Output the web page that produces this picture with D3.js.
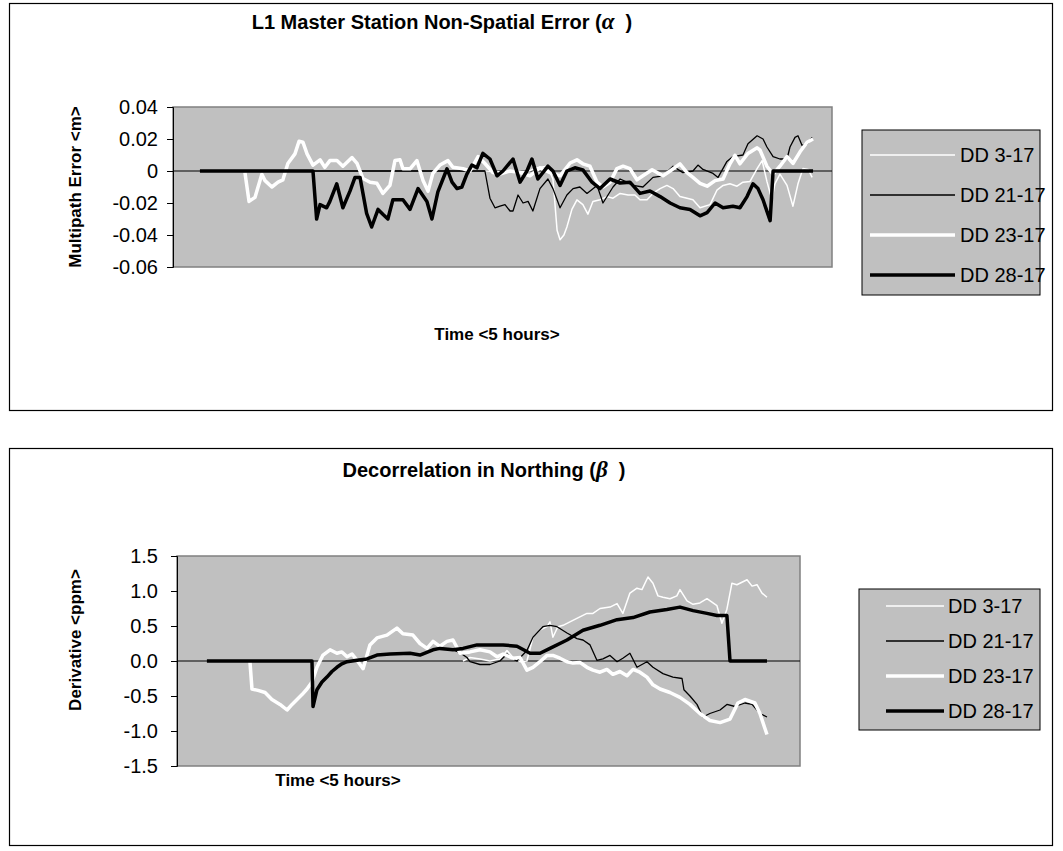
<!DOCTYPE html>
<html>
<head>
<meta charset="utf-8">
<script src="https://cdn.jsdelivr.net/npm/d3@7"></script>
<style>
  body { margin: 0; background: #fff; }
  text { font-family: "Liberation Sans", Arial, sans-serif; }
</style>
</head>
<body>
<svg id="chart" width="1063" height="851"></svg>
<script>
// series names shared by both charts
var seriesNames = ["DD 3-17", "DD 21-17", "DD 23-17", "DD 28-17"];

// ---- top chart: master station non-spatial error (metres), time in minutes ----
var alphaTicks = [-0.06, -0.04, -0.02, 0, 0.02, 0.04];

var alpha3T = [139.7, 146.3, 152.0, 158.1, 162.5, 166.9, 169.5, 171.3, 172.6, 174.3, 175.6, 177.8, 180.0, 182.6, 184.8, 187.0, 190.1, 193.2, 195.8, 198.9, 202.4, 205.4, 207.6, 210.7, 213.3, 216.4, 219.4, 222.1, 225.1, 228.2, 230.8, 233.9, 238.3, 241.3, 244.0, 247.0, 250.1, 252.7, 255.8, 258.9, 261.1, 263.2, 265.4, 266.7, 268.9, 272.0, 274.6, 276.8, 279.0, 281.3, 283.0];
var alpha3V = [0, -0.0005, 0, -0.0005, 0.002, 0.003, -0.005, -0.037, -0.043, -0.040, -0.035, -0.024, -0.018, -0.021, -0.027, -0.019, -0.018, -0.016, -0.017, -0.014, -0.015, -0.015, -0.018, -0.018, -0.014, -0.011, -0.009, -0.011, -0.016, -0.017, -0.018, -0.023, -0.021, -0.012, -0.009, -0.008, -0.0095, -0.007, -0.0065, 0.0015, 0.0065, -0.0065, -0.018, -0.008, -0.002, -0.009, -0.022, -0.008, 0.0015, 0.001, -0.004];

var alpha21T = [14.9, 139.7, 141.9, 144.1, 146.3, 148.5, 150.7, 152.0, 154.2, 156.4, 158.6, 160.7, 163.8, 167.3, 169.5, 172.6, 175.6, 178.3, 181.3, 184.4, 188.8, 191.4, 195.8, 198.9, 201.9, 204.5, 208.9, 213.3, 217.7, 222.1, 226.4, 230.8, 233.0, 235.2, 239.6, 241.8, 245.7, 248.3, 252.7, 254.9, 258.9, 261.5, 263.2, 265.9, 268.9, 272.0, 273.3, 275.5, 276.8, 278.6, 280.8, 283.0];
var alpha21V = [0, 0, -0.017, -0.023, -0.022, -0.021, -0.025, -0.025, -0.015, -0.020, -0.019, -0.025, -0.011, -0.005, -0.011, -0.023, -0.015, -0.011, -0.010, -0.014, -0.009, -0.020, -0.010, -0.005, -0.007, -0.009, -0.010, -0.004, -0.003, 0.003, -0.001, 0, 0.0037, 0.001, -0.0015, -0.004, 0.006, 0.009, 0.010, 0.017, 0.022, 0.020, 0.015, 0.009, 0.0075, 0.0075, 0.015, 0.021, 0.022, 0.016, 0.017, 0.021];

var alpha23T = [34.6, 36.4, 39.0, 42.0, 43.4, 46.4, 49.1, 51.2, 53.4, 56.5, 58.3, 60.0, 61.8, 64.4, 67.5, 69.6, 71.8, 74.9, 77.5, 81.5, 83.7, 86.3, 89.4, 92.4, 95.0, 98.1, 100.3, 102.5, 103.8, 106.9, 109.9, 112.6, 114.8, 116.9, 120.0, 123.5, 125.7, 130.1, 133.2, 136.7, 139.7, 143.2, 146.3, 150.7, 155.1, 159.4, 163.8, 168.2, 172.6, 177.0, 180.0, 182.6, 185.7, 188.8, 191.4, 194.5, 197.5, 200.2, 203.2, 206.3, 208.9, 212.9, 215.1, 217.7, 220.8, 225.1, 228.2, 230.8, 233.9, 237.0, 240.5, 244.0, 247.0, 249.2, 251.4, 254.9, 258.9, 260.2, 263.2, 265.9, 268.9, 272.0, 274.6, 277.7, 280.8, 283.4];
var alpha23V = [-0.001, -0.019, -0.0165, -0.002, -0.006, -0.010, -0.007, -0.0056, 0.0047, 0.0107, 0.0186, 0.018, 0.0107, 0.0037, 0.007, 0.0023, 0.0065, 0.0065, 0.003, 0.0084, 0.0047, -0.0047, -0.007, -0.0077, -0.014, -0.009, 0.0065, 0.007, 0.0014, 0.0014, 0.0065, -0.006, -0.0126, -0.0015, 0.0037, 0.0065, 0.0023, 0.0014, 0, 0.009, 0.0047, -0.001, -0.002, 0, -0.001, -0.003, 0.002, -0.001, -0.003, 0.005, 0.007, 0.0045, 0.003, -0.007, -0.010, -0.007, 0.0015, 0.003, 0.0015, -0.0055, -0.003, 0.0008, -0.001, -0.003, 0, 0.0045, -0.001, -0.004, -0.0077, -0.0095, -0.006, -0.005, 0.0045, 0.0098, 0.0045, 0.011, 0.0145, 0.013, 0.003, -0.002, 0.003, 0.009, 0.0047, 0.012, 0.018, 0.020];

var alpha28T = [14.9, 64.4, 66.0, 67.5, 70.4, 71.8, 74.8, 77.5, 80.6, 82.8, 85.0, 87.9, 90.1, 92.9, 95.0, 97.2, 99.4, 103.8, 106.9, 110.4, 114.3, 116.5, 119.1, 123.1, 125.3, 127.5, 129.6, 131.8, 134.0, 136.2, 138.8, 141.9, 145.0, 147.6, 152.0, 155.1, 158.1, 160.3, 162.9, 167.3, 169.5, 172.6, 175.6, 179.1, 182.6, 186.6, 190.1, 194.5, 198.9, 203.2, 207.6, 212.0, 216.4, 220.8, 225.1, 229.5, 233.9, 237.0, 240.5, 244.0, 248.3, 251.4, 254.5, 257.1, 259.3, 261.5, 264.6, 265.9, 283.4];
var alpha28V = [0, 0, -0.030, -0.021, -0.023, -0.019, -0.008, -0.023, -0.0126, -0.004, -0.004, -0.0265, -0.035, -0.024, -0.027, -0.030, -0.018, -0.018, -0.024, -0.011, -0.019, -0.030, -0.013, 0.0014, -0.007, -0.011, -0.010, -0.002, 0.0037, 0.002, 0.011, 0.0075, -0.003, 0, 0.0075, -0.007, 0, 0.0075, -0.005, 0.003, 0, -0.009, 0, 0.002, 0.0007, -0.007, -0.011, -0.005, -0.0075, -0.007, -0.014, -0.0125, -0.016, -0.020, -0.023, -0.024, -0.028, -0.026, -0.020, -0.023, -0.022, -0.023, -0.016, -0.008, -0.011, -0.018, -0.031, 0, 0];

// ---- bottom chart: decorrelation in northing (ppm), time in minutes ----
var betaTicks = [-1.5, -1.0, -0.5, 0, 0.5, 1.0, 1.5];

var beta3T = [137.7, 141.1, 145.9, 150.7, 155.5, 158.9, 161.8, 165.2, 168.5, 171.4, 174.8, 178.2, 179.6, 181.0, 183.4, 185.9, 189.2, 194.0, 197.4, 200.3, 203.7, 208.5, 211.9, 214.7, 218.1, 221.5, 223.9, 226.8, 229.2, 231.6, 234.0, 237.4, 240.7, 242.2, 245.6, 248.5, 251.8, 255.2, 257.6, 260.0, 262.4, 264.8, 267.2, 269.6, 274.5, 276.9, 279.3, 281.7, 284.1];
var beta3V = [0, 0.05, 0.03, 0.0, 0.03, 0.15, 0.05, -0.01, 0.0, 0.34, 0.44, 0.49, 0.56, 0.34, 0.49, 0.51, 0.56, 0.63, 0.68, 0.68, 0.75, 0.77, 0.82, 0.68, 0.97, 1.04, 1.02, 1.20, 1.11, 0.93, 0.91, 0.89, 0.93, 1.02, 0.86, 0.81, 0.83, 0.89, 0.84, 0.79, 0.54, 0.74, 1.11, 1.09, 1.16, 1.07, 1.09, 0.97, 0.91];

var beta21T = [126.6, 132.9, 136.3, 139.6, 141.1, 145.9, 150.7, 155.5, 158.9, 161.8, 163.7, 168.5, 171.4, 176.2, 179.6, 183.0, 187.8, 192.6, 195.5, 198.9, 202.2, 205.1, 208.5, 211.9, 214.7, 218.1, 221.5, 226.3, 229.2, 234.0, 238.8, 243.2, 244.1, 247.0, 250.4, 253.3, 256.6, 261.5, 264.8, 268.7, 273.5, 276.9, 280.7, 284.1];
var beta21V = [0.18, 0.16, 0.12, 0.05, -0.01, -0.05, -0.05, 0.0, 0.10, 0.03, 0.0, 0.15, 0.34, 0.49, 0.51, 0.49, 0.40, 0.32, 0.30, 0.23, 0.01, 0.03, 0.08, -0.01, 0.04, 0.11, -0.09, -0.01, -0.09, -0.18, -0.23, -0.25, -0.41, -0.50, -0.62, -0.80, -0.75, -0.70, -0.62, -0.65, -0.60, -0.62, -0.75, -0.80];

var beta23T = [35.1, 36.1, 39.0, 42.4, 45.7, 49.6, 53.0, 55.4, 57.8, 60.2, 62.6, 65.0, 67.4, 70.3, 73.7, 77.0, 79.4, 81.9, 84.3, 86.7, 89.6, 92.9, 96.3, 101.1, 105.9, 108.8, 113.6, 117.0, 120.4, 123.3, 126.6, 130.0, 132.9, 136.3, 141.1, 145.9, 150.7, 154.1, 157.0, 161.8, 165.2, 168.5, 171.4, 174.8, 178.2, 181.0, 184.4, 187.8, 190.7, 194.0, 197.4, 200.3, 203.7, 207.0, 209.9, 213.3, 216.7, 219.6, 222.9, 226.3, 229.2, 232.6, 237.4, 242.2, 247.0, 251.8, 256.6, 261.5, 266.3, 270.1, 273.5, 278.3, 280.7, 284.1];
var beta23V = [0, -0.40, -0.42, -0.45, -0.55, -0.62, -0.70, -0.62, -0.55, -0.48, -0.40, -0.30, -0.09, 0.085, 0.16, 0.11, 0.13, 0.06, 0.10, 0.01, -0.11, 0.23, 0.33, 0.37, 0.47, 0.39, 0.37, 0.25, 0.18, 0.28, 0.21, 0.28, 0.30, 0.11, 0.13, 0.16, 0.13, 0.06, 0.10, 0.04, 0.05, -0.13, -0.09, -0.01, 0.08, 0.08, 0.04, -0.01, -0.03, -0.02, -0.09, -0.13, -0.16, -0.12, -0.19, -0.15, -0.21, -0.12, -0.16, -0.23, -0.34, -0.40, -0.45, -0.52, -0.62, -0.75, -0.85, -0.88, -0.83, -0.60, -0.55, -0.60, -0.75, -1.05];

var beta28T = [14.4, 65.0, 65.5, 67.4, 69.8, 72.2, 74.6, 77.0, 79.4, 81.9, 86.7, 91.5, 96.3, 102.6, 112.2, 117.0, 123.3, 126.6, 132.9, 137.7, 144.5, 157.0, 163.7, 170.0, 174.8, 179.6, 187.8, 195.5, 203.7, 211.9, 219.6, 227.7, 235.9, 242.2, 248.5, 255.2, 260.0, 264.8, 266.3, 284.1];
var beta28V = [0, 0, -0.65, -0.41, -0.30, -0.23, -0.15, -0.09, -0.04, -0.01, 0.01, 0.03, 0.085, 0.10, 0.11, 0.085, 0.16, 0.18, 0.16, 0.18, 0.23, 0.23, 0.21, 0.11, 0.11, 0.18, 0.30, 0.44, 0.51, 0.59, 0.62, 0.70, 0.735, 0.77, 0.72, 0.68, 0.65, 0.65, 0, 0];

// line look per series (Excel order: later series on top)
var lineColours = ["#ffffff", "#000000", "#ffffff", "#000000"];
var lineWidths = [1.5, 1.3, 3.5, 3.5];

function zip(ts, vs) {
    return ts.map(function (t, i) { return { t: t, v: vs[i] }; });
}

var svg = d3.select("#chart");

function drawChart(c) {

    var g = svg.append("g");

    // outer chart frame
    g.append("rect")
        .attr("x", c.box[0]).attr("y", c.box[1])
        .attr("width", c.box[2]).attr("height", c.box[3])
        .attr("fill", "#fff").attr("stroke", "#000").attr("stroke-width", 1.2);

    // title, greek letter in an italic serif like the Symbol font
    var title = g.append("text")
        .attr("x", c.titleX).attr("y", c.titleY)
        .attr("text-anchor", "middle")
        .style("font-size", "20px").style("font-weight", "bold");
    title.append("tspan").text(c.title + " (");
    title.append("tspan").text(c.greek)
        .style("font-family", "'Liberation Serif', 'Times New Roman', serif")
        .style("font-style", "italic").style("font-size", "23px");
    title.append("tspan").text("\u00a0\u00a0)");

    var x = d3.scaleLinear().domain(c.xDomain).range([c.plot[0], c.plot[1]]);
    var y = d3.scaleLinear().domain(c.yDomain).range([c.plot[3], c.plot[2]]);

    // grey plot area
    g.append("rect")
        .attr("x", c.plot[0]).attr("y", c.plot[2])
        .attr("width", c.plot[1] - c.plot[0]).attr("height", c.plot[3] - c.plot[2])
        .attr("fill", "#c0c0c0").attr("stroke", "#808080").attr("stroke-width", 1.5);

    // zero line (category axis crossing)
    g.append("line")
        .attr("x1", c.plot[0]).attr("x2", c.plot[1])
        .attr("y1", y(0)).attr("y2", y(0))
        .attr("stroke", "#000").attr("stroke-width", 1);

    // value axis
    var axis = g.append("g")
        .attr("transform", "translate(" + c.plot[0] + ",0)")
        .call(d3.axisLeft(y).tickValues(c.ticks).tickSize(6).tickPadding(c.tickPad)
            .tickFormat(c.fmt));
    axis.select(".domain").attr("stroke", "#000");
    axis.selectAll(".tick line").attr("stroke", "#000");
    axis.selectAll(".tick text")
        .attr("fill", "#000")
        .style("font-family", "'Liberation Sans', Arial, sans-serif")
        .style("font-size", "20px");

    // axis titles
    g.append("text")
        .attr("transform", "translate(" + c.yLabel[0] + "," + c.yLabel[1] + ") rotate(-90)")
        .attr("text-anchor", "middle").attr("dy", "0.35em")
        .style("font-size", "17px").style("font-weight", "bold")
        .text(c.yTitle);

    g.append("text")
        .attr("x", c.xLabel[0]).attr("y", c.xLabel[1])
        .attr("text-anchor", "middle").attr("dy", "0.35em")
        .style("font-size", "17px").style("font-weight", "bold")
        .text("Time <5 hours>");

    // series
    var line = d3.line()
        .x(function (d) { return x(d.t); })
        .y(function (d) { return y(d.v); });

    c.series.forEach(function (s, i) {
        g.append("path")
            .datum(s)
            .attr("d", line)
            .attr("fill", "none")
            .attr("stroke", lineColours[i])
            .attr("stroke-width", lineWidths[i])
            .attr("stroke-linejoin", "round");
    });

    // legend
    var L = c.legend;
    g.append("rect")
        .attr("x", L.x).attr("y", L.y).attr("width", L.w).attr("height", L.h)
        .attr("fill", "#c0c0c0").attr("stroke", "#000").attr("stroke-width", 1);

    var item = g.selectAll(".leg")
        .data(seriesNames)
        .enter().append("g")
        .attr("class", "leg")
        .attr("transform", function (d, i) { return "translate(0," + (L.first + i * L.step) + ")"; });

    item.append("line")
        .attr("x1", L.lx1).attr("x2", L.lx2)
        .attr("stroke", function (d, i) { return lineColours[i]; })
        .attr("stroke-width", function (d, i) { return lineWidths[i]; });

    item.append("text")
        .attr("x", L.tx).attr("dy", "0.36em")
        .style("font-size", "20px")
        .text(function (d) { return d; });
}

drawChart({
    box: [9.5, 3.5, 1043, 407],
    title: "L1 Master Station Non-Spatial Error", greek: "\u03b1",
    titleX: 442, titleY: 29,
    plot: [173, 832, 107, 267], xDomain: [3.1, 291.7],
    yDomain: [-0.06, 0.04], ticks: alphaTicks, tickPad: 9,
    fmt: function (d) { return d === 0 ? "0" : d.toFixed(2); },
    yTitle: "Multipath Error <m>", yLabel: [75, 187],
    xLabel: [497, 334],
    series: [zip(alpha3T, alpha3V), zip(alpha21T, alpha21V), zip(alpha23T, alpha23V), zip(alpha28T, alpha28V)],
    legend: { x: 862, y: 130, w: 178, h: 165, first: 155, step: 40, lx1: 870, lx2: 955, tx: 960 }
});

drawChart({
    box: [9.5, 448.5, 1043, 397],
    title: "Decorrelation in Northing", greek: "\u03b2",
    titleX: 484, titleY: 477,
    plot: [177, 800, 556, 766], xDomain: [0, 300],
    yDomain: [-1.5, 1.5], ticks: betaTicks, tickPad: 13,
    fmt: function (d) { return d.toFixed(1); },
    yTitle: "Derivative  <ppm>", yLabel: [75, 640],
    xLabel: [338, 780],
    series: [zip(beta3T, beta3V), zip(beta21T, beta21V), zip(beta23T, beta23V), zip(beta28T, beta28V)],
    legend: { x: 859, y: 589, w: 181, h: 141, first: 606, step: 35, lx1: 886, lx2: 944, tx: 948 }
});
</script>
</body>
</html>
